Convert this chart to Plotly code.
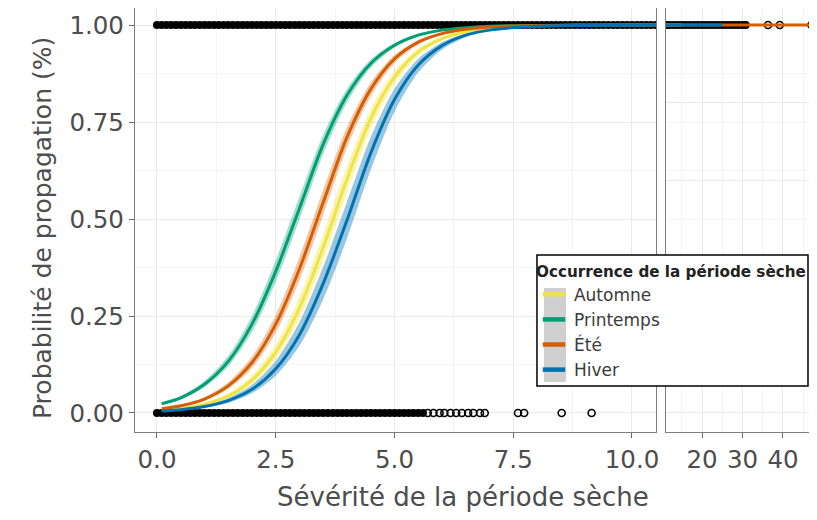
import numpy as np
import plotly.graph_objects as go

# ---------------- data ----------------
seasons = ["Automne", "Printemps", "Été", "Hiver"]
season_colors = ["#F0E442", "#009E73", "#D55E00", "#0072B2"]
season_fill = ["rgba(240,228,66,0.40)", "rgba(0,158,115,0.35)",
               "rgba(213,94,0,0.35)", "rgba(0,114,178,0.40)"]
# half width of the confidence ribbon, on the logit scale
season_band = [0.14, 0.12, 0.13, 0.19]

x_automne = [0.1, 0.5, 1.0, 1.5, 2.0, 2.5, 3.0, 3.5, 4.0, 4.5, 5.0, 5.5, 6.0, 6.5, 7.0, 8.0, 9.0, 10.5, 12.0, 15.0]
p_automne = [0.0066, 0.0114, 0.0226, 0.044, 0.085, 0.157, 0.271, 0.427, 0.603, 0.759, 0.866, 0.931, 0.965, 0.983, 0.992, 0.998, 0.9995, 0.9999, 1.0, 1.0]

x_printemps = [0.1, 0.5, 1.0, 1.5, 2.0, 2.5, 3.0, 3.5, 4.0, 4.5, 5.0, 5.5, 6.0, 6.5, 7.0, 8.0, 9.0, 10.5, 12.0]
p_printemps = [0.024, 0.039, 0.074, 0.133, 0.229, 0.365, 0.528, 0.693, 0.819, 0.901, 0.948, 0.974, 0.987, 0.993, 0.997, 0.999, 0.9998, 1.0, 1.0]

x_ete = [0.1, 0.5, 1.0, 1.5, 2.0, 2.5, 3.0, 3.5, 4.0, 4.5, 5.0, 5.5, 6.0, 6.5, 7.0, 8.0, 9.0, 10.5, 15.0, 25.0, 30.8, 36.3, 39.2, 47.0]
p_ete = [0.0107, 0.0185, 0.036, 0.070, 0.130, 0.229, 0.372, 0.543, 0.711, 0.835, 0.913, 0.956, 0.978, 0.989, 0.995, 0.999, 0.9997, 1.0, 1.0, 1.0, 1.0, 1.0, 1.0, 1.0]

x_hiver = [0.1, 0.5, 1.0, 1.5, 2.0, 2.5, 3.0, 3.5, 4.0, 4.5, 5.0, 5.5, 6.0, 6.5, 7.0, 8.0, 9.0, 10.5, 15.0, 20.0, 25.0]
p_hiver = [0.0049, 0.0084, 0.0165, 0.032, 0.061, 0.114, 0.202, 0.334, 0.497, 0.670, 0.808, 0.897, 0.947, 0.974, 0.987, 0.997, 0.999, 1.0, 1.0, 1.0, 1.0]

# observed dry periods without propagation (y = 0): dense run, then scattered ones
obs_zero_dense_x = [0.0, 0.1, 0.2, 0.3, 0.4, 0.5, 0.6, 0.7, 0.8, 0.9,
                    1.0, 1.1, 1.2, 1.3, 1.4, 1.5, 1.6, 1.7, 1.8, 1.9,
                    2.0, 2.1, 2.2, 2.3, 2.4, 2.5, 2.6, 2.7, 2.8, 2.9,
                    3.0, 3.1, 3.2, 3.3, 3.4, 3.5, 3.6, 3.7, 3.8, 3.9,
                    4.0, 4.1, 4.2, 4.3, 4.4, 4.5, 4.6, 4.7, 4.8, 4.9,
                    5.0, 5.1, 5.2, 5.3, 5.4, 5.5, 5.6]
obs_zero_sparse_x = [5.7, 5.82, 5.95, 6.05, 6.18, 6.3, 6.42, 6.55, 6.66, 6.8, 6.9,
                     7.6, 7.73, 8.52, 9.15]
# observed dry periods with propagation (y = 1)
obs_one_dense_x = [0.0, 0.1, 0.2, 0.3, 0.4, 0.5, 0.6, 0.7, 0.8, 0.9,
                   1.0, 1.1, 1.2, 1.3, 1.4, 1.5, 1.6, 1.7, 1.8, 1.9,
                   2.0, 2.1, 2.2, 2.3, 2.4, 2.5, 2.6, 2.7, 2.8, 2.9,
                   3.0, 3.1, 3.2, 3.3, 3.4, 3.5, 3.6, 3.7, 3.8, 3.9,
                   4.0, 4.1, 4.2, 4.3, 4.4, 4.5, 4.6, 4.7, 4.8, 4.9,
                   5.0, 5.1, 5.2, 5.3, 5.4, 5.5, 5.6, 5.7, 5.8, 5.9,
                   6.0, 6.1, 6.2, 6.3, 6.4, 6.5, 6.6, 6.7, 6.8, 6.9,
                   7.0, 7.1, 7.2, 7.3, 7.4, 7.5, 7.6, 7.7, 7.8, 7.9,
                   8.0, 8.1, 8.2, 8.3, 8.4, 8.5, 8.6, 8.7, 8.8, 8.9,
                   9.0, 9.1, 9.2, 9.3, 9.4, 9.5, 9.6, 9.7, 9.8, 9.9,
                   10.0, 10.1, 10.2, 10.3, 10.4, 10.5,
                   11.3, 12.0, 13.0, 14.0, 15.0, 16.0, 17.0, 18.0, 19.0, 20.0,
                   21.0, 22.0, 23.0, 24.0, 25.0, 26.0, 27.0, 28.0, 29.0, 30.0, 30.8]
obs_one_sparse_x = [36.3, 39.2, 47.0]

x_ticks_main = [0, 2.5, 5, 7.5, 10]
x_ticklabels_main = ["0.0", "2.5", "5.0", "7.5", "10.0"]
x_ticks_tail = [20, 30, 40]
x_ticklabels_tail = ["20", "30", "40"]
y_ticks = [0, 0.25, 0.5, 0.75, 1.0]
y_ticklabels = ["0.00", "0.25", "0.50", "0.75", "1.00"]

curves = [(x_automne, p_automne), (x_printemps, p_printemps),
          (x_ete, p_ete), (x_hiver, p_hiver)]

# ---------------- figure ----------------
FONT = "DejaVu Sans"
fig = go.Figure()
axes_pairs = [("x", "y"), ("x2", "y2")]


def ribbon(p, half):
    pc = np.clip(np.asarray(p, float), 1e-5, 1 - 1e-5)
    lg = np.log(pc / (1 - pc))
    lo = 1 / (1 + np.exp(-(lg - half)))
    hi = 1 / (1 + np.exp(-(lg + half)))
    return lo, hi


solid = dict(symbol="circle", size=8, color="black", line=dict(width=0))
hollow = dict(symbol="circle-open", size=7, color="black", line=dict(width=1.6, color="black"))
for xa, ya in axes_pairs:
    for xs, yv, mk in [(obs_zero_dense_x, 0, solid), (obs_zero_sparse_x, 0, hollow),
                       (obs_one_dense_x, 1, solid), (obs_one_sparse_x, 1, hollow)]:
        fig.add_trace(go.Scatter(x=xs, y=[yv] * len(xs), mode="markers", marker=mk,
                                 showlegend=False, hoverinfo="skip", xaxis=xa, yaxis=ya))

# ribbons
for (cx, cp), col, fill, half in zip(curves, season_colors, season_fill, season_band):
    lo, hi = ribbon(cp, half)
    for xa, ya in axes_pairs:
        fig.add_trace(go.Scatter(x=list(cx) + list(cx)[::-1],
                                 y=list(hi) + list(lo)[::-1],
                                 fill="toself", fillcolor=fill, mode="lines",
                                 line=dict(width=0, shape="spline", smoothing=0.8),
                                 showlegend=False, hoverinfo="skip", xaxis=xa, yaxis=ya))

# fitted lines
for (cx, cp), col, name in zip(curves, season_colors, seasons):
    for xa, ya in axes_pairs:
        fig.add_trace(go.Scatter(x=cx, y=cp, mode="lines",
                                 line=dict(color=col, width=3, shape="spline", smoothing=0.8),
                                 showlegend=False, name=name, xaxis=xa, yaxis=ya))

# legend entries
for col, name in zip(season_colors, seasons):
    fig.add_trace(go.Scatter(x=[None], y=[None], mode="markers", name=name,
                             marker=dict(symbol="line-ew", size=16, color=col,
                                         line=dict(width=4.5, color=col)),
                             showlegend=True))

grid_major = "#e9e9e9"
grid_minor = "#f4f4f4"
border = "#7f7f7f"
tickfont = dict(family=FONT, size=24.5, color="#4d4d4d")

common_x = dict(ticks="outside", ticklen=5, tickcolor="#666", tickwidth=1,
                showgrid=True, gridcolor=grid_major, gridwidth=1.2,
                showline=True, linecolor=border, linewidth=1.3, mirror=True,
                zeroline=False, tickfont=tickfont)

# the page is shown with an 8px body margin, so the figure is offset by 8px
fig.update_layout(
    width=817, height=520,
    margin=dict(l=127, r=8, t=0, b=96),
    paper_bgcolor="white", plot_bgcolor="white",
    font=dict(family=FONT, color="#4d4d4d"),
    xaxis=dict(domain=[0, 0.7639], range=[-0.463, 10.505], anchor="y",
               tickvals=x_ticks_main, ticktext=x_ticklabels_main,
               minor=dict(dtick=1.25, tick0=0, showgrid=True, gridcolor=grid_minor,
                          gridwidth=0.8, ticks=""),
               **common_x),
    xaxis2=dict(domain=[0.7786, 1], range=[11.1, 48.4], anchor="y2",
                tickvals=x_ticks_tail, ticktext=x_ticklabels_tail,
                minor=dict(dtick=5, tick0=0, showgrid=True, gridcolor=grid_minor,
                           gridwidth=0.8, ticks=""),
                **common_x),
    yaxis=dict(domain=[0, 1], range=[-0.049, 1.044], anchor="x",
               tickvals=y_ticks, ticktext=y_ticklabels,
               ticks="outside", ticklen=5, tickcolor="#666",
               showgrid=True, gridcolor=grid_major, gridwidth=1.2,
               minor=dict(dtick=0.125, tick0=0, showgrid=True, gridcolor=grid_minor,
                          gridwidth=0.8, ticks=""),
               showline=True, linecolor=border, linewidth=1.3, mirror=True,
               zeroline=False, tickfont=tickfont),
    yaxis2=dict(domain=[0, 1], matches="y", anchor="x2", showticklabels=False,
                ticks="", showgrid=True, gridcolor=grid_major, gridwidth=1.2,
                minor=dict(dtick=0.125, tick0=0, showgrid=True, gridcolor=grid_minor,
                           gridwidth=0.8, ticks=""),
                showline=True, linecolor=border, linewidth=1.3, mirror=False,
                zeroline=False),
    legend=dict(x=0.585, y=0.4127, xanchor="left", yanchor="top",
                bgcolor="rgba(0,0,0,0)", borderwidth=0,
                font=dict(family=FONT, size=17, color="#3a3a3a"),
                title=dict(text="<b>Occurrence de la période sèche</b>",
                           font=dict(family=FONT, size=15.2, color="#222")),
                itemwidth=30, tracegroupgap=0, traceorder="normal"),
    shapes=[
        dict(type="rect", xref="paper", yref="paper", x0=0.5894, x1=0.9868,
             y0=0.1085, y1=0.4175, fillcolor="white",
             line=dict(color="black", width=1.5), layer="above"),
        dict(type="rect", xref="paper", yref="paper", x0=0.5997, x1=0.6320,
             y0=0.1179, y1=0.3396, fillcolor="#cfcfcf", line=dict(width=0),
             layer="above"),
    ],
    annotations=[
        dict(text="Sévérité de la période sèche", xref="paper", yref="paper",
             x=0.481, y=-0.1533, xanchor="center", yanchor="middle", showarrow=False,
             font=dict(family=FONT, size=26, color="#4d4d4d")),
        dict(text="Probabilité de propagation (%)", xref="paper", yref="paper",
             x=-0.1364, y=0.481, xanchor="center", yanchor="middle", textangle=-90,
             showarrow=False,
             font=dict(family=FONT, size=25, color="#4d4d4d")),
    ],
)

fig.write_html("out.html")
